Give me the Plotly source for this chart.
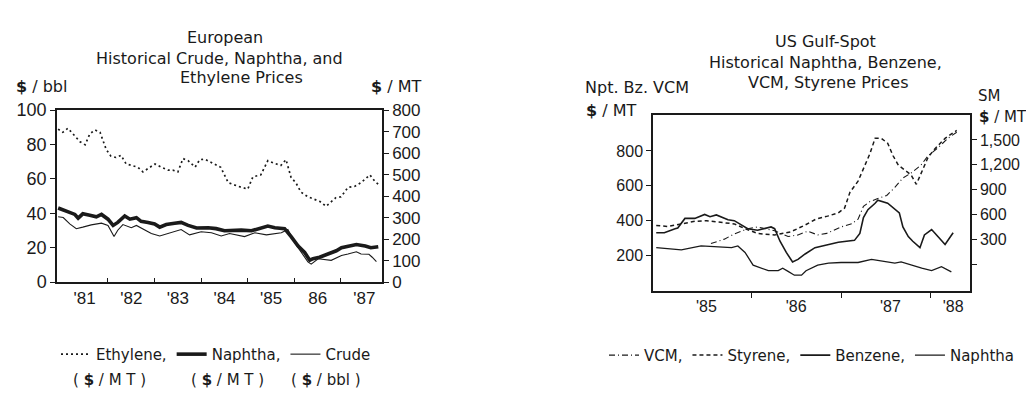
import plotly.graph_objects as go

# ---------------- Left panel data (European) ----------------
eth_x = [1980.93,1981.03,1981.14,1981.25,1981.40,1981.51,1981.61,1981.72,1981.83,1981.96,
         1982.06,1982.17,1982.28,1982.39,1982.49,1982.64,1982.75,1982.86,1983.01,1983.14,
         1983.29,1983.39,1983.50,1983.61,1983.72,1983.87,1983.97,1984.08,1984.25,1984.42,
         1984.58,1984.79,1985.00,1985.11,1985.28,1985.43,1985.58,1985.71,1985.82,1985.93,
         1986.03,1986.14,1986.29,1986.40,1986.55,1986.68,1986.79,1986.89,1987.00,1987.15,
         1987.30,1987.43,1987.62,1987.73,1987.80]
eth_mt = [712,697,716,690,653,639,690,708,697,618,
          587,580,590,550,543,535,513,528,550,535,
          521,521,513,575,565,535,570,572,552,534,
          463,446,433,490,499,565,552,543,570,486,
          463,419,397,389,375,353,375,393,397,441,
          446,463,499,468,455]

nap_x = [1980.93,1981.11,1981.29,1981.36,1981.46,1981.61,1981.75,1981.86,1982.00,1982.11,
         1982.21,1982.36,1982.47,1982.61,1982.71,1982.86,1983.00,1983.11,1983.25,1983.43,
         1983.57,1983.72,1983.90,1984.15,1984.32,1984.50,1984.86,1985.08,1985.29,1985.43,
         1985.58,1985.79,1985.93,1986.08,1986.22,1986.33,1986.40,1986.54,1986.72,1986.90,
         1987.01,1987.15,1987.33,1987.52,1987.64,1987.80]
nap_mt = [345,330,315,298,318,311,304,315,293,264,
          278,308,293,300,283,278,271,256,268,274,
          278,264,252,253,249,239,242,239,253,261,
          253,249,212,168,138,102,109,116,131,146,
          160,168,175,168,160,165]

cru_x = [1980.93,1981.04,1981.18,1981.32,1981.46,1981.64,1981.86,1982.00,1982.13,1982.21,
         1982.32,1982.50,1982.61,1982.79,1982.93,1983.11,1983.29,1983.57,1983.75,1984.00,
         1984.22,1984.43,1984.61,1984.93,1985.15,1985.40,1985.72,1985.86,1986.01,1986.15,
         1986.29,1986.36,1986.51,1986.79,1987.01,1987.15,1987.33,1987.43,1987.60,1987.67,
         1987.76]
cru_bbl = [38.0,37.6,33.9,31.1,32.0,33.3,34.3,33.0,26.5,30.2,
           33.5,31.7,33.0,30.2,28.3,26.9,28.3,30.6,27.5,29.3,
           28.7,26.9,28.3,26.5,28.7,27.5,28.7,30.6,22.8,17.3,
           11.8,10.5,13.6,12.7,15.5,16.4,17.7,16.4,16.2,14.5,
           12.0]

left_year_vals = [1981.5, 1982.5, 1983.5, 1984.5, 1985.5, 1986.5, 1987.5]
left_year_text = ["'81", "'82", "'83", "'84", "'85", "86", "'87"]
left_bbl_ticks = [0, 20, 40, 60, 80, 100]
left_mt_ticks = [0, 100, 200, 300, 400, 500, 600, 700, 800]

# ---------------- Right panel data (US Gulf-Spot) ----------------
vcm_x = [1985.55,1985.70,1985.81,1985.96,1986.07,1986.26,1986.41,1986.52,1986.63,1986.74,
         1986.84,1987.00,1987.12,1987.19,1987.25,1987.32,1987.41,1987.51,1987.60,1987.69,
         1987.78,1987.89,1987.97,1988.08,1988.19,1988.29]
vcm_y = [269,294,324,354,364,342,309,318,340,318,
         327,364,382,409,482,509,527,545,591,645,
         673,718,772,818,872,908]

sty_x = [1984.94,1985.07,1985.22,1985.37,1985.50,1985.67,1985.81,1985.93,1986.07,1986.26,
         1986.44,1986.59,1986.72,1986.85,1986.97,1987.04,1987.10,1987.19,1987.26,1987.32,
         1987.38,1987.45,1987.52,1987.58,1987.64,1987.71,1987.78,1987.84,1987.90,1987.97,
         1988.04,1988.16,1988.29]
sty_y = [467,455,486,517,525,505,486,428,371,352,
         390,467,543,580,620,677,869,1002,1174,1328,
         1519,1519,1461,1309,1194,1137,1079,964,1117,1289,
         1386,1519,1615]

bz_x = [1984.94,1985.03,1985.15,1985.18,1985.26,1985.37,1985.48,1985.54,1985.61,1985.67,
        1985.74,1985.81,1985.89,1985.96,1986.07,1986.15,1986.22,1986.26,1986.32,1986.39,
        1986.46,1986.52,1986.60,1986.71,1986.82,1986.97,1987.15,1987.21,1987.25,1987.30,
        1987.38,1987.41,1987.52,1987.60,1987.65,1987.69,1987.75,1987.80,1987.88,1987.93,
        1988.01,1988.08,1988.16,1988.25]
bz_y = [331,331,354,358,413,413,436,423,433,418,
        405,400,373,354,345,354,364,354,282,218,
        163,178,209,245,258,276,287,327,418,463,
        500,518,500,463,445,364,309,282,245,318,
        349,309,263,331]

npu_x = [1984.94,1985.22,1985.44,1985.59,1985.78,1985.85,1985.93,1986.02,1986.19,1986.30,
         1986.35,1986.41,1986.48,1986.56,1986.61,1986.74,1986.86,1987.00,1987.19,1987.34,
         1987.49,1987.60,1987.67,1987.78,1987.90,1988.01,1988.12,1988.23]
npu_y = [245,233,255,251,245,255,218,145,113,113,
         127,109,87,87,113,145,156,160,160,178,
         167,156,163,145,127,113,136,106]

right_year_vals = [1985.5, 1986.5, 1987.55, 1988.25]
right_year_text = ["'85", "'86", "'87", "'88"]
right_left_ticks = [200, 400, 600, 800]
right_sm_ticks = [0, 300, 600, 900, 1200, 1500]
right_sm_text = ["", "300", "600", "900", "1,200", "1,500"]

# ---------------- Figure ----------------
W, H = 1034, 402
INK = "#1a1a1a"
FONT = "Liberation Sans"
TFONT = "DejaVu Sans"

def px_x(p):
    return p / W

def px_y(p):
    return 1 - p / H

fig = go.Figure()

# left panel traces
fig.add_trace(go.Scatter(x=eth_x, y=eth_mt, name="Ethylene,", mode="lines",
                         line=dict(color=INK, width=1.7, dash="2px,3px"),
                         xaxis="x", yaxis="y2", legend="legend"))
fig.add_trace(go.Scatter(x=nap_x, y=nap_mt, name="Naphtha,", mode="lines",
                         line=dict(color=INK, width=3.6),
                         xaxis="x", yaxis="y2", legend="legend"))
fig.add_trace(go.Scatter(x=cru_x, y=cru_bbl, name="Crude", mode="lines",
                         line=dict(color=INK, width=1.1),
                         xaxis="x", yaxis="y", legend="legend"))

# right panel traces
fig.add_trace(go.Scatter(x=vcm_x, y=vcm_y, name="VCM,", mode="lines",
                         line=dict(color=INK, width=1.1, dash="6px,3px,1px,3px"),
                         xaxis="x2", yaxis="y3", legend="legend2"))
fig.add_trace(go.Scatter(x=sty_x, y=sty_y, name="Styrene,", mode="lines",
                         line=dict(color=INK, width=1.5, dash="4px,3px"),
                         xaxis="x2", yaxis="y4", legend="legend2"))
fig.add_trace(go.Scatter(x=bz_x, y=bz_y, name="Benzene,", mode="lines",
                         line=dict(color=INK, width=1.6),
                         xaxis="x2", yaxis="y3", legend="legend2"))
fig.add_trace(go.Scatter(x=npu_x, y=npu_y, name="Naphtha", mode="lines",
                         line=dict(color=INK, width=1.3),
                         xaxis="x2", yaxis="y3", legend="legend2"))

def axis_style(size):
    return dict(showgrid=False, zeroline=False, showline=True, linecolor=INK,
                linewidth=1.5, tickcolor=INK, ticklen=5, tickwidth=1.2,
                tickfont=dict(family=FONT, size=size, color=INK))

# left panel geometry (pixels): x 49..374, y 97..278
L_dom_x = [px_x(49), px_x(374)]
L_dom_y = [px_y(278), px_y(97)]
# right panel geometry: x 645..962, y 102..287
R_dom_x = [px_x(645), px_x(962)]
R_dom_y = [px_y(287), px_y(102)]

fig.update_layout(
    width=W, height=H, autosize=False,
    margin=dict(l=0, r=0, t=0, b=0),
    paper_bgcolor="white", plot_bgcolor="white",
    font=dict(family=FONT, size=15, color=INK),
    xaxis=dict(domain=L_dom_x, range=[1980.906, 1987.88], anchor="y",
               tickmode="array", tickvals=left_year_vals, ticktext=left_year_text,
               mirror=True, ticks="", **axis_style(17),
               minor=dict(tickmode="array", tickvals=[1982, 1983, 1984, 1985, 1986, 1987],
                          ticks="inside", ticklen=4, tickcolor=INK, tickwidth=1.2)),
    yaxis=dict(domain=L_dom_y, range=[0, 100], anchor="x", ticks="outside",
               tickmode="array", tickvals=left_bbl_ticks, **axis_style(18)),
    yaxis2=dict(range=[0, 800], overlaying="y", side="right", anchor="x", ticks="outside",
                tickmode="array", tickvals=left_mt_ticks, **axis_style(17)),
    xaxis2=dict(domain=R_dom_x, range=[1984.904, 1988.438], anchor="y3",
                tickmode="array", tickvals=right_year_vals, ticktext=right_year_text,
                mirror=True, ticks="", **axis_style(16),
                minor=dict(tickmode="array", tickvals=[1986, 1987, 1988],
                           ticks="outside", ticklen=6, tickcolor=INK, tickwidth=1.2)),
    yaxis3=dict(domain=R_dom_y, range=[-2, 1007], anchor="x2", ticks="outside",
                tickmode="array", tickvals=right_left_ticks, **axis_style(16)),
    yaxis4=dict(range=[-321, 1802], overlaying="y3", side="right", anchor="x2", ticks="outside",
                tickmode="array", tickvals=right_sm_ticks, ticktext=right_sm_text, **axis_style(16)),
    legend=dict(orientation="h", x=px_x(48), y=px_y(354), xanchor="left", yanchor="middle",
                font=dict(family=TFONT, size=15, color=INK), bgcolor="rgba(0,0,0,0)",
                itemwidth=30, tracegroupgap=0),
    legend2=dict(orientation="h", x=px_x(596), y=px_y(355), xanchor="left", yanchor="middle",
                 font=dict(family=TFONT, size=15, color=INK), bgcolor="rgba(0,0,0,0)",
                 itemwidth=30, tracegroupgap=0),
    showlegend=True,
)

ann = []

def text(t, x, y, anchor="center", size=16, yanchor="middle"):
    ann.append(dict(text=t, x=px_x(x), y=px_y(y), xref="paper", yref="paper",
                    xanchor=anchor, yanchor=yanchor, showarrow=False,
                    borderpad=0,
                    font=dict(family=TFONT, size=size, color=INK)))

# left titles
text("European", 217, 20)
text("Historical Crude, Naphtha, and", 211, 43)
text("Ethylene Prices", 233, 63)
text("<b>$</b> / bbl", 7, 72, anchor="left")
text("<b>$</b> / MT", 362, 72, anchor="left")
# left unit row under legend
text("( <b>$</b> / M T )", 101, 381, size=15)
text("( <b>$</b> / M T )", 219, 381, size=15)
text("( <b>$</b> / bbl )", 317, 381, size=15)

# right titles
text("US Gulf-Spot", 817, 25)
text("Historical Naphtha, Benzene,", 817, 47)
text("VCM, Styrene Prices", 820, 68)
text("Npt. Bz. VCM", 576, 73, anchor="left")
text("<b>$</b> / MT", 577, 97, anchor="left")
text("SM", 969, 93, anchor="left", size=15, yanchor="bottom")
text("<b>$</b> / MT", 970, 94, anchor="left", size=15, yanchor="top")

fig.update_layout(annotations=ann)

fig.write_html("out.html")
